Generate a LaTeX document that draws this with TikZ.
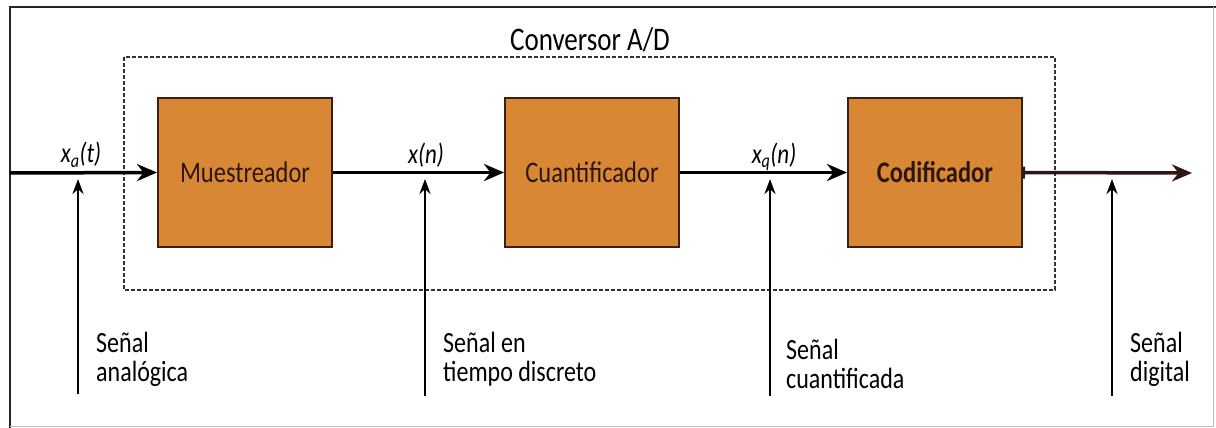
\documentclass[tikz,border=0pt]{standalone}
\usepackage{fontspec}
\usepackage{graphicx}
\setmainfont{Carlito}
\usetikzlibrary{arrows.meta}
\definecolor{boxfill}{RGB}{216,136,52}
\definecolor{boxedge}{RGB}{60,30,18}
\definecolor{boxtext}{RGB}{45,22,14}
\definecolor{outline}{RGB}{45,22,20}
\newcommand{\vst}[1]{\scalebox{1}[1.22]{#1}}
\newcommand{\twoline}[2]{\vst{\fontsize{24}{23}\selectfont\begin{tabular}{@{}l@{}}#1\\#2\end{tabular}}}
\begin{document}
\begin{tikzpicture}[x=1pt,y=-1pt,
  block/.style={draw=boxedge,line width=2pt,fill=boxfill,minimum width=174pt,minimum height=149pt,inner sep=0pt,text=boxtext},
  sig/.style={line width=3.5pt,-{Stealth[length=20pt,width=17pt]}},
  up/.style={line width=2.8pt,-{Stealth[length=15pt,width=11pt]}},
  lbl/.style={anchor=north west,inner sep=0pt},
  sym/.style={inner sep=0pt}]
\useasboundingbox (0,0) rectangle (1216,428);
% outer frame
\draw[line width=2.8pt,black!85] (10,428) -- (10,7) -- (1216,7);
\draw[line width=1pt,black!25] (10,426) -- (1213,426) -- (1213,7);
% dashed converter box
\draw[line width=1.8pt,black!80,dash pattern=on 4pt off 2pt] (124,57) rectangle (1055,290);
\node (title) at (590,40) {\vst{\fontsize{27}{30}\selectfont Conversor A/D}};
% blocks
\node[block] (mue) at (245,172.5) {\vst{\fontsize{24.5}{26}\selectfont Muestreador}};
\node[block] (cua) at (592,172.5) {\vst{\fontsize{24.5}{26}\selectfont Cuantificador}};
\node[block] (cod) at (935,172.5) {\vst{\fontsize{24.5}{26}\selectfont\bfseries Codificador}};
% signal coordinates
\coordinate (in) at (10,173);
\coordinate (out) at (1192,173);
\draw[sig] (in) -- (mue.west);
\draw[sig] (mue.east) -- (cua.west);
\draw[sig] (cua.east) -- (cod.west);
\draw[sig,{Bar[width=12pt,line width=2pt]}-{Stealth[length=20pt,width=17pt]},draw=outline,fill=outline] (cod.east) -- (out);
% signal symbols
\node[sym] (xa) at (81,155) {\vst{\fontsize{23}{25}\selectfont\itshape x\textsubscript{a}(t)}};
\node[sym] (xn) at (426,155) {\vst{\fontsize{23}{25}\selectfont\itshape x(n)}};
\node[sym] (xq) at (774,157) {\vst{\fontsize{23}{25}\selectfont\itshape x\textsubscript{q}(n)}};
% upward pointers
\coordinate (p1b) at (78,394); \coordinate (p1t) at (78,179);
\coordinate (p2b) at (425,396); \coordinate (p2t) at (425,179);
\coordinate (p3b) at (770,396); \coordinate (p3t) at (770,179);
\coordinate (p4b) at (1112,396); \coordinate (p4t) at (1112,179);
\draw[up] (p1b) -- (p1t);
\draw[up] (p2b) -- (p2t);
\draw[up] (p3b) -- (p3t);
\draw[up] (p4b) -- (p4t);
% labels
\node[lbl] (l1) at (96,332) {\twoline{Señal}{analógica}};
\node[lbl] (l2) at (443,332) {\twoline{Señal en}{tiempo discreto}};
\node[lbl] (l3) at (786,339) {\twoline{Señal}{cuantificada}};
\node[lbl] (l4) at (1130,332) {\twoline{Señal}{digital}};
\end{tikzpicture}
\end{document}
